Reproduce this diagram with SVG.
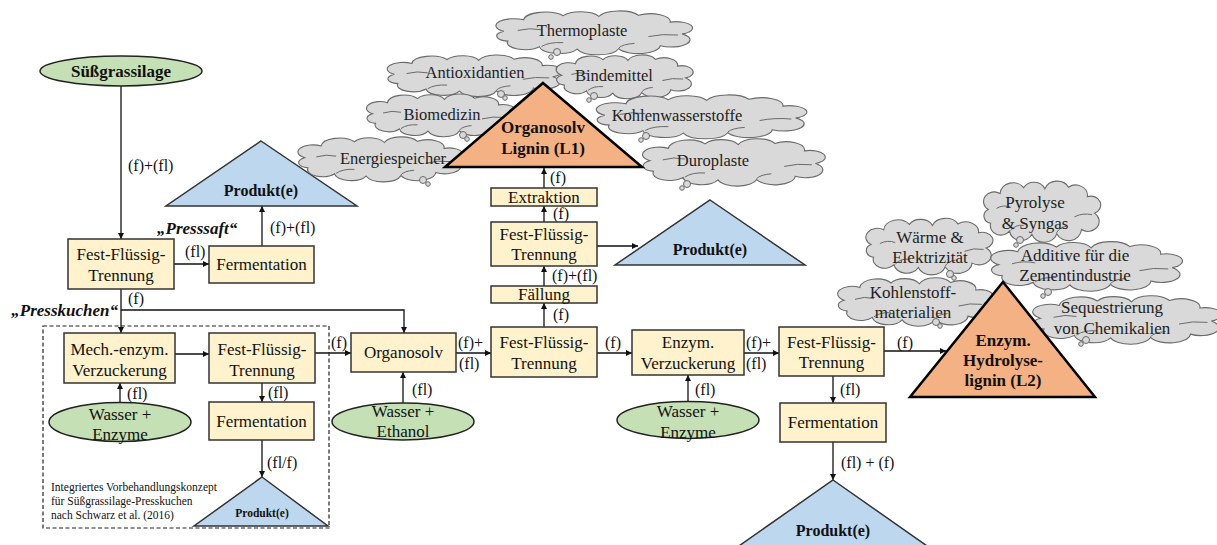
<svg xmlns="http://www.w3.org/2000/svg" xmlns:xlink="http://www.w3.org/1999/xlink" width="1217" height="545" viewBox="0 0 1217 545" font-family="'Liberation Serif', 'DejaVu Serif', serif">
<style>
text{font-family:"Liberation Serif","DejaVu Serif",serif;fill:#111}
.bx{fill:#fff2cc;stroke:#333;stroke-width:1.5}
.el{fill:#c5e0b4;stroke:#222;stroke-width:1.5}
.pb{fill:#bdd7ee;stroke:#333;stroke-width:1.5}
.po{fill:#f4b183;stroke:#000;stroke-width:2.5}
.t17{font-size:17px;text-anchor:middle}
.lb{font-size:16px}
.b{font-weight:bold}
.ct{font-size:16.5px;text-anchor:middle;fill:#222}
.cl{fill:#d9d9d9;stroke:#6a6a6a;stroke-width:1.1}
.ci{fill:none;stroke:#6a6a6a;stroke-width:1}
.bub{fill:#d9d9d9;stroke:#6a6a6a;stroke-width:1}
.cn{fill:none;stroke:#111;stroke-width:1.3}
</style>
<defs>
<marker id="ah" viewBox="0 0 10 10" refX="10" refY="5" markerWidth="6" markerHeight="6" markerUnits="userSpaceOnUse" orient="auto"><path d="M0,0 L10,5 L0,10 z" fill="#111"/></marker>
<path id="cloudp" vector-effect="non-scaling-stroke" d="M 14,48 A 17 17 0 0 1 34,18 A 22 22 0 0 1 74,7 A 20 20 0 0 1 110,9 A 22 22 0 0 1 150,6 A 20 20 0 0 1 182,24 A 16 16 0 0 1 194,55 A 18 18 0 0 1 172,86 A 22 22 0 0 1 130,94 A 22 22 0 0 1 88,95 A 20 20 0 0 1 50,89 A 18 18 0 0 1 18,74 A 14 14 0 0 1 14,48 Z"/>
<path id="cloudi" vector-effect="non-scaling-stroke" d="M 160,62 Q 174,54 190,58 M 28,46 Q 40,38 52,44 M 52,88 Q 60,76 74,78 M 130,92 Q 134,82 146,80"/>
</defs>

<g id="connectors">
<path class="cn" d="M121,86 V239" marker-end="url(#ah)"/>
<path class="cn" d="M174,264 H209" marker-end="url(#ah)"/>
<path class="cn" d="M262,246 V206" marker-end="url(#ah)"/>
<path class="cn" d="M121,289 V333" marker-end="url(#ah)"/>
<path class="cn" d="M121,310 H404 V333" marker-end="url(#ah)"/>
<path class="cn" d="M175,354 H209" marker-end="url(#ah)"/>
<path class="cn" d="M120,403 V383" marker-end="url(#ah)"/>
<path class="cn" d="M262,383 V402" marker-end="url(#ah)"/>
<path class="cn" d="M262,440 V477" marker-end="url(#ah)"/>
<path class="cn" d="M315,353 H351" marker-end="url(#ah)"/>
<path class="cn" d="M403,403 V372" marker-end="url(#ah)"/>
<path class="cn" d="M456,353 H491" marker-end="url(#ah)"/>
<path class="cn" d="M544,327 V303" marker-end="url(#ah)"/>
<path class="cn" d="M544,286 V266" marker-end="url(#ah)"/>
<path class="cn" d="M544,222 V206" marker-end="url(#ah)"/>
<path class="cn" d="M544,188 V168" marker-end="url(#ah)"/>
<path class="cn" d="M597,246 H638" marker-end="url(#ah)"/>
<path class="cn" d="M597,353 H632" marker-end="url(#ah)"/>
<path class="cn" d="M688,402 V375" marker-end="url(#ah)"/>
<path class="cn" d="M744,353 H779" marker-end="url(#ah)"/>
<path class="cn" d="M884,351 H946" marker-end="url(#ah)"/>
<path class="cn" d="M833,376 V403" marker-end="url(#ah)"/>
<path class="cn" d="M833,442 V480" marker-end="url(#ah)"/>
<text class="lb" x="128" y="171">(f)+(fl)</text>
<text class="lb b" x="157" y="234" style="font-style:italic;font-size:17px">„Presssaft“</text>
<text class="lb" x="185" y="257">(fl)</text>
<text class="lb" x="270" y="233">(f)+(fl)</text>
<text class="lb" x="128" y="304">(f)</text>
<text class="lb b" x="118" y="316" style="font-style:italic;font-size:17px;text-anchor:end">„Presskuchen“</text>
<text class="lb" x="127" y="399">(fl)</text>
<text class="lb" x="268" y="398">(fl)</text>
<text class="lb" x="267" y="468">(fl/f)</text>
<text class="lb" x="331" y="348">(f)</text>
<text class="lb" x="412" y="395">(fl)</text>
<text class="lb" x="458" y="348">(f)+</text>
<text class="lb" x="459" y="369">(fl)</text>
<text class="lb" x="553" y="320">(f)</text>
<text class="lb" x="552" y="281">(f)+(fl)</text>
<text class="lb" x="553" y="219">(f)</text>
<text class="lb" x="550" y="183">(f)</text>
<text class="lb" x="605" y="348">(f)</text>
<text class="lb" x="695" y="395">(fl)</text>
<text class="lb" x="746" y="348">(f)+</text>
<text class="lb" x="746" y="369">(fl)</text>
<text class="lb" x="897" y="348">(f)</text>
<text class="lb" x="840" y="395">(fl)</text>
<text class="lb" x="841" y="468">(fl) + (f)</text>
</g>

<g id="konzept">
<rect x="43" y="326" width="286" height="202" fill="none" stroke="#222" stroke-width="1.2" stroke-dasharray="4,2.5"/>
<text x="51" y="491" style="font-size:11.5px">Integriertes Vorbehandlungskonzept</text>
<text x="51" y="505" style="font-size:11.5px">für Süßgrassilage-Presskuchen</text>
<text x="51" y="519" style="font-size:11.5px">nach Schwarz et al. (2016)</text>
</g>

<g id="suessgrassilage"><ellipse class="el" cx="121" cy="71" rx="81" ry="15"/><text class="t17 b" x="121" y="77">Süßgrassilage</text></g>
<g id="fft1"><rect class="bx" x="68" y="239" width="106" height="50"/><text class="t17" x="121" y="260">Fest-Flüssig-</text><text class="t17" x="121" y="281">Trennung</text></g>
<g id="ferm1"><rect class="bx" x="209" y="246" width="105" height="37"/><text class="t17" x="261.5" y="270">Fermentation</text></g>
<g id="produkt1"><path class="pb" d="M261,141 L357,206 L166,206 Z"/><text class="lb b" x="261" y="196" text-anchor="middle">Produkt(e)</text></g>
<g id="mech"><rect class="bx" x="64" y="333" width="111" height="50"/><text class="t17" x="119.5" y="355">Mech.-enzym.</text><text class="t17" x="119.5" y="376">Verzuckerung</text></g>
<g id="wasser1"><ellipse class="el" cx="120" cy="422" rx="71" ry="19.5"/><text class="t17" x="120" y="420">Wasser +</text><text class="t17" x="120" y="440">Enzyme</text></g>
<g id="fft2"><rect class="bx" x="209" y="333" width="106" height="50"/><text class="t17" x="262" y="355">Fest-Flüssig-</text><text class="t17" x="262" y="376">Trennung</text></g>
<g id="ferm2"><rect class="bx" x="209" y="402" width="105" height="38"/><text class="t17" x="261.5" y="427">Fermentation</text></g>
<g id="produkt2"><path class="pb" d="M262,477 L328,526 L194,526 Z"/><text class="b" x="262" y="517" text-anchor="middle" style="font-size:11.5px">Produkt(e)</text></g>
<g id="organosolv"><rect class="bx" x="351" y="333" width="105" height="39"/><text class="t17" x="403.5" y="358">Organosolv</text></g>
<g id="wasser2"><ellipse class="el" cx="403" cy="421.5" rx="71" ry="18.5"/><text class="t17" x="403" y="417">Wasser +</text><text class="t17" x="403" y="437">Ethanol</text></g>
<g id="fft3"><rect class="bx" x="491" y="327" width="106" height="50"/><text class="t17" x="544" y="348">Fest-Flüssig-</text><text class="t17" x="544" y="369">Trennung</text></g>
<g id="faellung"><rect class="bx" x="491" y="286" width="106" height="17"/><text class="t17" x="544" y="300">Fällung</text></g>
<g id="fft4"><rect class="bx" x="491" y="222" width="106" height="44"/><text class="t17" x="544" y="240">Fest-Flüssig-</text><text class="t17" x="544" y="260">Trennung</text></g>
<g id="extraktion"><rect class="bx" x="491" y="188" width="106" height="18"/><text class="t17" x="544" y="203">Extraktion</text></g>
<g id="produkt3"><path class="pb" d="M710,200 L805,265 L615,265 Z"/><text class="lb b" x="710" y="255" text-anchor="middle">Produkt(e)</text></g>
<g id="enzym"><rect class="bx" x="632" y="330" width="112" height="45"/><text class="t17" x="688" y="348">Enzym.</text><text class="t17" x="688" y="369">Verzuckerung</text></g>
<g id="wasser3"><ellipse class="el" cx="688" cy="420" rx="71" ry="18.5"/><text class="t17" x="688" y="417">Wasser +</text><text class="t17" x="688" y="438">Enzyme</text></g>
<g id="fft5"><rect class="bx" x="779" y="327" width="105" height="49"/><text class="t17" x="831.5" y="348">Fest-Flüssig-</text><text class="t17" x="831.5" y="368">Trennung</text></g>
<g id="ferm3"><rect class="bx" x="780" y="403" width="106" height="39"/><text class="t17" x="833" y="428">Fermentation</text></g>
<g id="produkt4"><path class="pb" d="M833,480 L930,548 L736,548 Z"/><text class="lb b" x="833" y="536" text-anchor="middle">Produkt(e)</text></g>

<g id="c-thermoplaste"><use xlink:href="#cloudp" class="cl" transform="translate(490,13) scale(0.99,0.38)"/><use xlink:href="#cloudi" class="ci" transform="translate(490,13) scale(0.99,0.38)"/><circle class="bub" cx="557" cy="52" r="3.5"/><circle class="bub" cx="551" cy="57" r="2.3"/><text class="ct" x="582" y="36">Thermoplaste</text></g>
<g id="c-antioxidantien"><use xlink:href="#cloudp" class="cl" transform="translate(382,57) scale(0.88,0.36)"/><use xlink:href="#cloudi" class="ci" transform="translate(382,57) scale(0.88,0.36)"/><circle class="bub" cx="501" cy="94" r="3.5"/><circle class="bub" cx="505" cy="98" r="2.3"/><text class="ct" x="475" y="78">Antioxidantien</text></g>
<g id="c-bindemittel"><use xlink:href="#cloudp" class="cl" transform="translate(552,57) scale(0.69,0.38)"/><use xlink:href="#cloudi" class="ci" transform="translate(552,57) scale(0.69,0.38)"/><circle class="bub" cx="594" cy="96" r="3.5"/><circle class="bub" cx="589" cy="100" r="2.3"/><text class="ct" x="614" y="81">Bindemittel</text></g>
<g id="c-biomedizin"><use xlink:href="#cloudp" class="cl" transform="translate(362,96) scale(0.75,0.37)"/><use xlink:href="#cloudi" class="ci" transform="translate(362,96) scale(0.75,0.37)"/><circle class="bub" cx="463" cy="135" r="3.5"/><circle class="bub" cx="467" cy="139" r="2.3"/><text class="ct" x="442" y="120">Biomedizin</text></g>
<g id="c-kohlenwasserstoffe"><use xlink:href="#cloudp" class="cl" transform="translate(590,97) scale(1.06,0.38)"/><use xlink:href="#cloudi" class="ci" transform="translate(590,97) scale(1.06,0.38)"/><circle class="bub" cx="646" cy="136" r="3.5"/><circle class="bub" cx="641" cy="140" r="2.3"/><text class="ct" x="677" y="121">Kohlenwasserstoffe</text></g>
<g id="c-energiespeicher"><use xlink:href="#cloudp" class="cl" transform="translate(293,139) scale(0.83,0.39)"/><use xlink:href="#cloudi" class="ci" transform="translate(293,139) scale(0.83,0.39)"/><circle class="bub" cx="423" cy="180" r="3.5"/><circle class="bub" cx="428" cy="184" r="2.3"/><text class="ct" x="393" y="164">Energiespeicher</text></g>
<g id="c-duroplaste"><use xlink:href="#cloudp" class="cl" transform="translate(637,141) scale(0.92,0.41)"/><use xlink:href="#cloudi" class="ci" transform="translate(637,141) scale(0.92,0.41)"/><circle class="bub" cx="687" cy="184" r="3.5"/><circle class="bub" cx="682" cy="188" r="2.3"/><text class="ct" x="713" y="166">Duroplaste</text></g>

<g id="lignin-l1"><path class="po" d="M543,83 L642,167 L445,167 Z" stroke-width="3"/><text class="t17 b" x="543" y="133">Organosolv</text><text class="t17 b" x="543" y="154">Lignin (L1)</text></g>

<g id="c-pyrolyse"><use xlink:href="#cloudp" class="cl" transform="translate(980,184) scale(0.59,0.53)"/><use xlink:href="#cloudi" class="ci" transform="translate(980,184) scale(0.59,0.53)"/><circle class="bub" cx="1020" cy="240" r="3.5"/><circle class="bub" cx="1016" cy="245" r="2.3"/><text class="ct" x="1035" y="208" style="font-size:17px">Pyrolyse</text><text class="ct" x="1035" y="229" style="font-size:17px">&amp; Syngas</text></g>
<g id="c-waerme"><use xlink:href="#cloudp" class="cl" transform="translate(862,221) scale(0.64,0.49)"/><use xlink:href="#cloudi" class="ci" transform="translate(862,221) scale(0.64,0.49)"/><circle class="bub" cx="950" cy="274" r="3.5"/><circle class="bub" cx="954" cy="278" r="2.3"/><text class="ct" x="930" y="243" style="font-size:17px">Wärme &amp;</text><text class="ct" x="930" y="263" style="font-size:17px">Elektrizität</text></g>
<g id="c-additive"><use xlink:href="#cloudp" class="cl" transform="translate(985,244) scale(0.965,0.43)"/><use xlink:href="#cloudi" class="ci" transform="translate(985,244) scale(0.965,0.43)"/><circle class="bub" cx="1048" cy="292" r="3.5"/><circle class="bub" cx="1043" cy="296" r="2.3"/><text class="ct" x="1075" y="261" style="font-size:17px">Additive für die</text><text class="ct" x="1075" y="281" style="font-size:17px">Zementindustrie</text></g>
<g id="c-kohlenstoff"><use xlink:href="#cloudp" class="cl" transform="translate(833,280) scale(0.785,0.42)"/><use xlink:href="#cloudi" class="ci" transform="translate(833,280) scale(0.785,0.42)"/><circle class="bub" cx="936" cy="322" r="3.5"/><circle class="bub" cx="940" cy="326" r="2.3"/><text class="ct" x="913" y="298" style="font-size:17px">Kohlenstoff-</text><text class="ct" x="913" y="318" style="font-size:17px">materialien</text></g>
<g id="c-sequestrierung"><use xlink:href="#cloudp" class="cl" transform="translate(1027,298) scale(0.95,0.42)"/><use xlink:href="#cloudi" class="ci" transform="translate(1027,298) scale(0.95,0.42)"/><circle class="bub" cx="1086" cy="340" r="3.5"/><circle class="bub" cx="1081" cy="344" r="2.3"/><text class="ct" x="1112" y="313" style="font-size:17px">Sequestrierung</text><text class="ct" x="1112" y="334" style="font-size:17px">von Chemikalien</text></g>

<g id="lignin-l2"><path class="po" d="M1003,282 L1095,397 L910,397 Z"/><text class="t17 b" x="1003" y="346">Enzym.</text><text class="t17 b" x="1003" y="366">Hydrolyse-</text><text class="t17 b" x="1003" y="386">lignin (L2)</text></g>
</svg>
